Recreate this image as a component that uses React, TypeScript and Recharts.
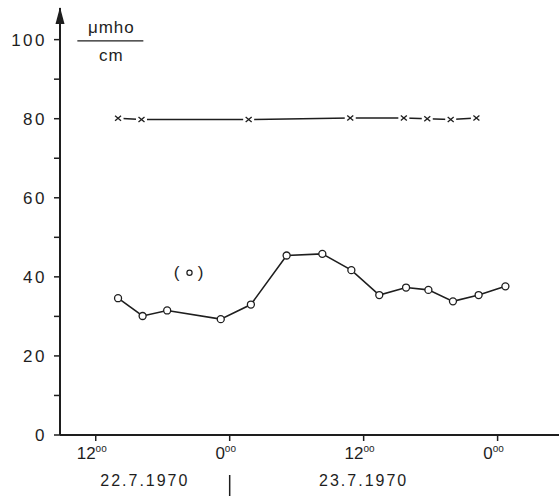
import { LineChart, Line, XAxis, YAxis, ReferenceDot } from "recharts";

// hours counted from 22.7.1970 0:00
const circleHours = [14.0, 16.2, 18.4, 23.2, 25.9, 29.1, 32.3, 34.9, 37.4, 39.8, 41.8, 44.0, 46.3, 48.7];
const circleValues = [34.6, 30.1, 31.5, 29.3, 33.0, 45.4, 45.8, 41.7, 35.4, 37.3, 36.7, 33.8, 35.4, 37.6];
const crossHours = [14.0, 16.1, 25.7, 34.8, 39.6, 41.7, 43.8, 46.1];
const crossValues = [80.1, 79.8, 79.8, 80.2, 80.2, 80.0, 79.8, 80.2];

const timeTicks = [12, 24, 36, 48];
const timeLabels = ["12", "0", "12", "0"];
const dateTicks = [16.4, 24, 36];
const dateLabels = ["22.7.1970", "|", "23.7.1970"];
const yTicks = [0, 10, 20, 30, 40, 50, 60, 70, 80, 90, 100];

const circleData = circleHours.map((h, i) => ({ hour: h, value: circleValues[i] }));
const crossData = crossHours.map((h, i) => ({ hour: h, value: crossValues[i] }));

const ink = "#1e1e1e";
const font = "'Liberation Sans', Arial, sans-serif";

const YTick = (props: any) => {
  const { x, y, payload } = props;
  if (payload.value % 20 !== 0) return null;
  return (
    <text x={x} y={y} dy={6} textAnchor="end" fontSize={17} fill={ink} fontFamily={font} letterSpacing={2.5}>
      {payload.value}
    </text>
  );
};

const TimeTick = (props: any) => {
  const { x, y, payload } = props;
  const i = timeTicks.indexOf(payload.value);
  return (
    <text x={x - 4} y={y + 16} textAnchor="middle" fontSize={17} fill={ink} fontFamily={font}>
      {timeLabels[i]}
      <tspan fontSize={10} dy={-7}>oo</tspan>
    </text>
  );
};

const DateTick = (props: any) => {
  const { x, y, payload } = props;
  const i = dateTicks.indexOf(payload.value);
  if (dateLabels[i] === "|") {
    return <line x1={x} x2={x} y1={y + 4} y2={y + 30} stroke={ink} strokeWidth={1.5} />;
  }
  return (
    <text x={x} y={y + 15} textAnchor="middle" fontSize={16} fill={ink} fontFamily={font} letterSpacing={2}>
      {dateLabels[i]}
    </text>
  );
};

const Cross = (props: any) => {
  const { cx, cy } = props;
  if (cx == null || cy == null) return null;
  return (
    <g>
      <rect x={cx - 5.5} y={cy - 3} width={11} height={6} fill="#fff" />
      <line x1={cx - 3} x2={cx + 3} y1={cy - 2.5} y2={cy + 2.5} stroke={ink} strokeWidth={1.3} />
      <line x1={cx - 3} x2={cx + 3} y1={cy + 2.5} y2={cy - 2.5} stroke={ink} strokeWidth={1.3} />
    </g>
  );
};

const Arrow = (props: any) => {
  const { cx, cy } = props;
  return <polygon points={`${cx},${cy - 1} ${cx - 4.5},${cy + 16} ${cx + 4.5},${cy + 16}`} fill={ink} />;
};

const Unit = (props: any) => {
  const { cx, cy } = props;
  return (
    <g fontFamily={font} fill={ink} fontSize={17}>
      <text x={cx} y={cy - 8} textAnchor="middle" letterSpacing={1}>μmho</text>
      <line x1={cx - 34} x2={cx + 32} y1={cy} y2={cy} stroke={ink} strokeWidth={1.3} />
      <text x={cx} y={cy + 20} textAnchor="middle" letterSpacing={1}>cm</text>
    </g>
  );
};

const SeriesTag = (props: any) => {
  const { cx, cy } = props;
  return (
    <g fontFamily={font} fill={ink} fontSize={17}>
      <text x={cx - 13} y={cy + 6} textAnchor="middle">(</text>
      <circle cx={cx} cy={cy + 1} r={2.6} fill="none" stroke={ink} strokeWidth={1.2} />
      <text x={cx + 11} y={cy + 6} textAnchor="middle">)</text>
    </g>
  );
};

export default function App() {
  return (
    <div style={{ width: 559, height: 496, background: "#fff" }}>
      <style>{`body{margin:0}`}</style>
      <LineChart width={559} height={496} margin={{ top: 8, right: 0, bottom: 0, left: 0 }}>
        <XAxis
          dataKey="hour"
          type="number"
          domain={[8.8, 53.5]}
          ticks={timeTicks}
          tick={<TimeTick />}
          tickSize={6}
          height={28}
          axisLine={{ stroke: ink, strokeWidth: 2 }}
          tickLine={{ stroke: ink, strokeWidth: 1.5 }}
          allowDataOverflow
        />
        <XAxis
          xAxisId="date"
          dataKey="hour"
          type="number"
          domain={[8.8, 53.5]}
          ticks={dateTicks}
          tick={<DateTick />}
          tickLine={false}
          axisLine={false}
          height={33}
          allowDataOverflow
        />
        <YAxis
          type="number"
          domain={[0, 108]}
          ticks={yTicks}
          tick={<YTick />}
          width={60}
          tickSize={6}
          tickMargin={7}
          interval={0}
          axisLine={{ stroke: ink, strokeWidth: 2 }}
          tickLine={{ stroke: ink, strokeWidth: 1.5 }}
          allowDataOverflow
        />
        <Line
          data={crossData}
          dataKey="value"
          stroke={ink}
          strokeWidth={1.5}
          dot={<Cross />}
          isAnimationActive={false}
        />
        <Line
          data={circleData}
          dataKey="value"
          stroke={ink}
          strokeWidth={1.6}
          dot={{ r: 3.5, fill: "#fff", stroke: ink, strokeWidth: 1.3 }}
          isAnimationActive={false}
        />
        <ReferenceDot x={8.8} y={108} ifOverflow="visible" shape={<Arrow />} />
        <ReferenceDot x={13.4} y={99.7} ifOverflow="visible" shape={<Unit />} />
        <ReferenceDot x={20.4} y={41.3} ifOverflow="visible" shape={<SeriesTag />} />
      </LineChart>
    </div>
  );
}
